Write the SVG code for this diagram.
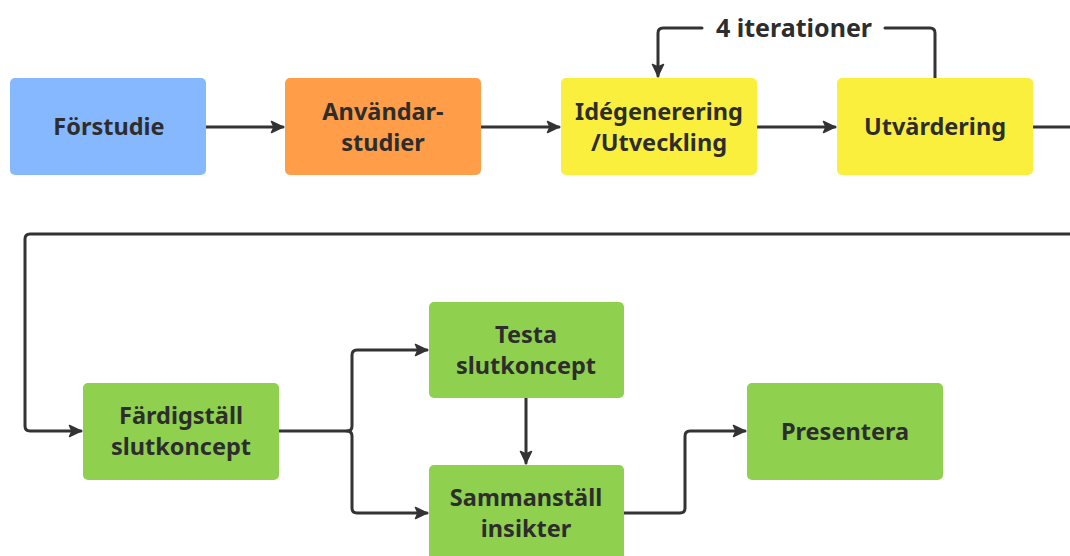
<svg xmlns="http://www.w3.org/2000/svg" width="1070" height="556" viewBox="0 0 1070 556">
  <style>
    .box { stroke: none; }
    .lbl { font-family: "Noto Sans", "Liberation Sans", sans-serif; font-weight: 700; font-size: 23.5px; fill: #2d2d2d; text-anchor: middle; }
    .tag { font-size: 25px; }
    .edge { fill: none; stroke: #333333; stroke-width: 3; stroke-linejoin: round; stroke-linecap: round; }
  </style>
  <defs>
    <marker id="arrow" viewBox="0 0 14 14" refX="13" refY="7" markerWidth="14" markerHeight="14" markerUnits="userSpaceOnUse" orient="auto">
      <path d="M1.5,1.5 L13,7 L1.5,12.5 L4,7 z" fill="#333333" stroke="#333333" stroke-width="1.5" stroke-linejoin="round"/>
    </marker>
  </defs>
  <rect width="1070" height="556" fill="#ffffff"/>

  <g id="connectors">
    <path class="edge" d="M206,127 L283,127" marker-end="url(#arrow)"/>
    <path class="edge" d="M481,127 L559,127" marker-end="url(#arrow)"/>
    <path class="edge" d="M756,127 L835,127" marker-end="url(#arrow)"/>
    <!-- iteration loop -->
    <path class="edge" d="M935,78 L935,33 Q935,28 930,28 L885,28"/>
    <path class="edge" d="M702,28 L663,28 Q658,28 658,33 L658,76" marker-end="url(#arrow)"/>
    <text class="lbl tag" x="794" y="37">4 iterationer</text>
    <!-- row wrap -->
    <path class="edge" d="M1032,127 L1072,127"/>
    <path class="edge" d="M1072,234 L30,234 Q25,234 25,239 L25,426 Q25,431 30,431 L81,431" marker-end="url(#arrow)"/>
    <!-- branch -->
    <path class="edge" d="M278,431 L347,431 Q352,431 352,426 L352,355 Q352,350 357,350 L427,350" marker-end="url(#arrow)"/>
    <path class="edge" d="M347,431 Q352,431 352,436 L352,508 Q352,513 357,513 L427,513" marker-end="url(#arrow)"/>
    <path class="edge" d="M526,398 L526,463" marker-end="url(#arrow)"/>
    <path class="edge" d="M623,513 L680,513 Q685,513 685,508 L685,436 Q685,431 690,431 L745,431" marker-end="url(#arrow)"/>
  </g>

  <g id="forstudie">
    <rect class="box" x="10" y="78" width="196" height="97" rx="5" fill="#86b8ff"/>
    <text class="lbl" x="109" y="135">Förstudie</text>
  </g>
  <g id="anvandarstudier">
    <rect class="box" x="285" y="78" width="196" height="97" rx="5" fill="#ff9d48"/>
    <text class="lbl" x="383" y="120">Användar-</text>
    <text class="lbl" x="383" y="151">studier</text>
  </g>
  <g id="idegenerering">
    <rect class="box" x="561" y="78" width="196" height="97" rx="5" fill="#fbef3d"/>
    <text class="lbl" x="659" y="120">Idégenerering</text>
    <text class="lbl" x="659" y="151">/Utveckling</text>
  </g>
  <g id="utvardering">
    <rect class="box" x="837" y="78" width="196" height="97" rx="5" fill="#fbef3d"/>
    <text class="lbl" x="935" y="135">Utvärdering</text>
  </g>
  <g id="fardigstall">
    <rect class="box" x="83" y="383" width="196" height="97" rx="5" fill="#8fd14f"/>
    <text class="lbl" x="181" y="424">Färdigställ</text>
    <text class="lbl" x="181" y="455">slutkoncept</text>
  </g>
  <g id="testa">
    <rect class="box" x="429" y="302" width="195" height="96" rx="5" fill="#8fd14f"/>
    <text class="lbl" x="526" y="343">Testa</text>
    <text class="lbl" x="526" y="374">slutkoncept</text>
  </g>
  <g id="sammanstall">
    <rect class="box" x="429" y="465" width="195" height="97" rx="5" fill="#8fd14f"/>
    <text class="lbl" x="526" y="506">Sammanställ</text>
    <text class="lbl" x="526" y="537">insikter</text>
  </g>
  <g id="presentera">
    <rect class="box" x="747" y="383" width="196" height="97" rx="5" fill="#8fd14f"/>
    <text class="lbl" x="845" y="440">Presentera</text>
  </g>
</svg>
